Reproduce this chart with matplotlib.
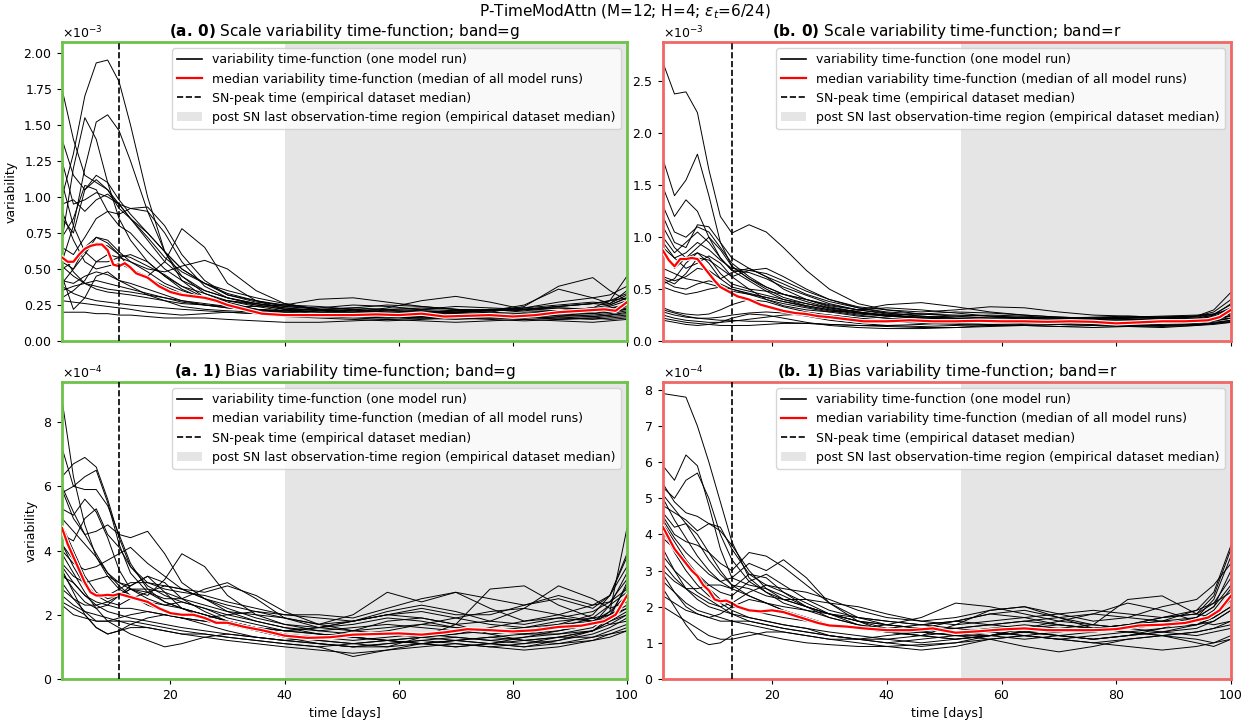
import numpy as np
import matplotlib
matplotlib.use('Agg')
import matplotlib.pyplot as plt
import matplotlib.patheffects as pe
from matplotlib.lines import Line2D
from matplotlib.patches import Patch

# days at which each model run was sampled
DAYS = [1, 3, 5, 7, 9, 11, 13, 16, 19, 22, 26, 30, 35, 40, 46, 52, 58, 64, 70, 76, 82, 88, 94, 97, 100]
# days at which the median curve was sampled
MED_DAYS = [1, 2, 3, 4, 5, 6, 7, 8, 9, 10, 11, 12, 13, 14, 16, 18, 20, 22, 24, 26, 28, 30, 33, 36, 40,
            44, 48, 52, 56, 60, 64, 68, 72, 76, 80, 84, 88, 92, 96, 98, 100]

# scale variability, band g (x1e-3)
SCALE_G_RUNS = [
    [1.00, 1.30, 1.70, 1.93, 1.95, 1.80, 1.50, 1.00, 0.62, 0.42, 0.30, 0.26, 0.22, 0.21, 0.20, 0.19, 0.20, 0.21, 0.20, 0.19, 0.18, 0.19, 0.20, 0.22, 0.25],
    [0.55, 0.80, 1.20, 1.52, 1.57, 1.46, 1.25, 0.90, 0.62, 0.45, 0.33, 0.27, 0.22, 0.20, 0.21, 0.22, 0.20, 0.19, 0.20, 0.22, 0.21, 0.23, 0.22, 0.24, 0.28],
    [0.70, 1.20, 1.55, 1.40, 1.10, 0.85, 0.70, 0.55, 0.45, 0.38, 0.30, 0.25, 0.22, 0.20, 0.18, 0.17, 0.18, 0.19, 0.18, 0.17, 0.18, 0.20, 0.22, 0.21, 0.24],
    [1.75, 1.40, 1.15, 1.10, 1.05, 0.95, 0.85, 0.70, 0.55, 0.45, 0.35, 0.30, 0.26, 0.24, 0.22, 0.21, 0.22, 0.23, 0.22, 0.21, 0.22, 0.24, 0.26, 0.25, 0.30],
    [1.40, 1.15, 1.05, 1.12, 1.05, 0.92, 0.85, 0.75, 0.62, 0.50, 0.40, 0.33, 0.28, 0.24, 0.23, 0.25, 0.24, 0.22, 0.21, 0.22, 0.23, 0.25, 0.27, 0.26, 0.32],
    [1.25, 0.95, 0.98, 1.03, 1.00, 0.95, 0.92, 0.93, 0.80, 0.60, 0.42, 0.32, 0.27, 0.25, 0.24, 0.22, 0.21, 0.22, 0.24, 0.23, 0.22, 0.24, 0.26, 0.28, 0.33],
    [0.85, 0.75, 1.05, 1.15, 1.10, 0.98, 0.88, 0.75, 0.62, 0.50, 0.40, 0.32, 0.28, 0.25, 0.22, 0.21, 0.20, 0.19, 0.21, 0.22, 0.20, 0.21, 0.23, 0.22, 0.26],
    [0.72, 0.85, 1.08, 1.05, 0.90, 0.80, 0.75, 0.62, 0.50, 0.42, 0.35, 0.30, 0.25, 0.22, 0.20, 0.19, 0.18, 0.17, 0.18, 0.19, 0.18, 0.20, 0.21, 0.20, 0.23],
    [0.55, 0.50, 0.60, 0.72, 0.68, 0.60, 0.50, 0.45, 0.55, 0.78, 0.65, 0.40, 0.28, 0.22, 0.22, 0.23, 0.25, 0.24, 0.22, 0.21, 0.22, 0.23, 0.22, 0.23, 0.25],
    [0.65, 0.60, 0.72, 0.85, 0.90, 0.88, 0.92, 0.90, 0.75, 0.55, 0.38, 0.30, 0.26, 0.23, 0.21, 0.20, 0.19, 0.20, 0.19, 0.18, 0.19, 0.20, 0.19, 0.21, 0.22],
    [0.95, 0.98, 0.90, 0.98, 1.02, 0.95, 0.85, 0.72, 0.58, 0.48, 0.40, 0.35, 0.30, 0.26, 0.22, 0.20, 0.19, 0.20, 0.21, 0.20, 0.19, 0.21, 0.23, 0.25, 0.30],
    [0.40, 0.50, 0.65, 0.72, 0.70, 0.62, 0.55, 0.48, 0.40, 0.35, 0.30, 0.28, 0.25, 0.22, 0.20, 0.18, 0.17, 0.18, 0.17, 0.16, 0.17, 0.18, 0.17, 0.18, 0.20],
    [0.50, 0.55, 0.62, 0.68, 0.66, 0.60, 0.58, 0.52, 0.46, 0.38, 0.33, 0.28, 0.24, 0.21, 0.19, 0.18, 0.17, 0.16, 0.17, 0.18, 0.17, 0.16, 0.17, 0.18, 0.19],
    [0.30, 0.35, 0.42, 0.55, 0.60, 0.58, 0.55, 0.50, 0.48, 0.52, 0.56, 0.50, 0.35, 0.26, 0.22, 0.19, 0.17, 0.16, 0.15, 0.16, 0.17, 0.15, 0.16, 0.17, 0.18],
    [0.20, 0.20, 0.20, 0.19, 0.19, 0.18, 0.18, 0.17, 0.16, 0.16, 0.16, 0.15, 0.14, 0.13, 0.13, 0.14, 0.15, 0.14, 0.13, 0.14, 0.15, 0.14, 0.13, 0.14, 0.15],
    [0.28, 0.27, 0.26, 0.25, 0.24, 0.23, 0.22, 0.20, 0.19, 0.18, 0.19, 0.20, 0.19, 0.17, 0.16, 0.15, 0.14, 0.15, 0.16, 0.15, 0.14, 0.15, 0.16, 0.15, 0.16],
    [0.45, 0.22, 0.30, 0.45, 0.48, 0.42, 0.38, 0.32, 0.28, 0.24, 0.22, 0.21, 0.20, 0.19, 0.18, 0.17, 0.16, 0.17, 0.18, 0.17, 0.16, 0.17, 0.18, 0.19, 0.21],
    [0.35, 0.38, 0.40, 0.42, 0.40, 0.38, 0.36, 0.33, 0.30, 0.28, 0.26, 0.24, 0.21, 0.19, 0.17, 0.16, 0.15, 0.16, 0.17, 0.16, 0.15, 0.16, 0.15, 0.16, 0.17],
    [0.52, 0.45, 0.40, 0.38, 0.36, 0.35, 0.34, 0.32, 0.30, 0.27, 0.25, 0.23, 0.22, 0.21, 0.22, 0.23, 0.22, 0.21, 0.20, 0.21, 0.25, 0.36, 0.30, 0.26, 0.35],
    [0.38, 0.33, 0.30, 0.28, 0.27, 0.26, 0.25, 0.24, 0.23, 0.22, 0.21, 0.20, 0.19, 0.18, 0.19, 0.20, 0.21, 0.20, 0.19, 0.20, 0.24, 0.38, 0.44, 0.35, 0.28],
    [0.60, 0.48, 0.40, 0.36, 0.34, 0.33, 0.32, 0.30, 0.28, 0.26, 0.25, 0.24, 0.24, 0.25, 0.29, 0.30, 0.27, 0.24, 0.22, 0.21, 0.22, 0.24, 0.26, 0.28, 0.30],
    [0.42, 0.40, 0.45, 0.48, 0.46, 0.42, 0.40, 0.36, 0.32, 0.28, 0.25, 0.23, 0.21, 0.20, 0.19, 0.20, 0.23, 0.28, 0.31, 0.27, 0.22, 0.21, 0.23, 0.28, 0.45],
    [0.90, 0.70, 0.55, 0.50, 0.52, 0.54, 0.50, 0.44, 0.38, 0.33, 0.30, 0.28, 0.26, 0.23, 0.21, 0.19, 0.18, 0.19, 0.20, 0.21, 0.23, 0.27, 0.30, 0.32, 0.38],
    [1.10, 0.80, 0.62, 0.55, 0.55, 0.58, 0.60, 0.55, 0.45, 0.36, 0.29, 0.25, 0.22, 0.20, 0.18, 0.17, 0.16, 0.17, 0.18, 0.17, 0.16, 0.18, 0.19, 0.20, 0.22],
]
SCALE_G_MEDIAN = [0.58, 0.55, 0.55, 0.60, 0.64, 0.66, 0.67, 0.67, 0.63, 0.53, 0.52, 0.54, 0.51, 0.47, 0.44, 0.38,
                  0.34, 0.32, 0.31, 0.30, 0.28, 0.25, 0.22, 0.19, 0.18, 0.18, 0.18, 0.18, 0.185, 0.18, 0.19,
                  0.17, 0.175, 0.18, 0.17, 0.18, 0.20, 0.21, 0.22, 0.21, 0.27]

# scale variability, band r (x1e-3)
SCALE_R_RUNS = [
    [2.68, 2.38, 2.40, 2.20, 1.65, 1.20, 1.04, 1.12, 1.05, 0.90, 0.68, 0.50, 0.36, 0.30, 0.26, 0.24, 0.22, 0.23, 0.22, 0.21, 0.22, 0.23, 0.24, 0.26, 0.30],
    [1.75, 1.40, 1.55, 1.80, 1.40, 0.95, 0.72, 0.60, 0.50, 0.42, 0.36, 0.31, 0.27, 0.24, 0.22, 0.21, 0.20, 0.19, 0.20, 0.21, 0.20, 0.19, 0.20, 0.22, 0.28],
    [1.48, 1.20, 1.36, 1.25, 1.00, 0.80, 0.68, 0.58, 0.48, 0.40, 0.34, 0.30, 0.26, 0.24, 0.23, 0.22, 0.23, 0.22, 0.21, 0.22, 0.23, 0.22, 0.23, 0.26, 0.35],
    [1.30, 1.05, 1.00, 1.10, 1.05, 0.90, 0.75, 0.62, 0.52, 0.45, 0.38, 0.32, 0.28, 0.25, 0.23, 0.24, 0.25, 0.24, 0.22, 0.21, 0.22, 0.23, 0.24, 0.28, 0.40],
    [1.20, 0.95, 0.90, 1.12, 1.10, 0.95, 0.80, 0.70, 0.62, 0.55, 0.45, 0.38, 0.32, 0.28, 0.26, 0.25, 0.24, 0.23, 0.22, 0.23, 0.24, 0.23, 0.24, 0.30, 0.47],
    [1.00, 0.85, 0.95, 1.05, 0.95, 0.80, 0.68, 0.66, 0.60, 0.52, 0.44, 0.36, 0.30, 0.26, 0.22, 0.20, 0.19, 0.20, 0.21, 0.20, 0.19, 0.20, 0.21, 0.23, 0.27],
    [0.90, 0.80, 0.85, 0.95, 0.88, 0.78, 0.70, 0.68, 0.65, 0.58, 0.48, 0.40, 0.33, 0.30, 0.28, 0.30, 0.33, 0.32, 0.28, 0.25, 0.24, 0.23, 0.22, 0.25, 0.32],
    [0.85, 0.70, 0.80, 0.90, 1.00, 0.88, 0.72, 0.60, 0.52, 0.45, 0.40, 0.34, 0.30, 0.35, 0.37, 0.33, 0.28, 0.25, 0.23, 0.22, 0.21, 0.22, 0.21, 0.23, 0.26],
    [0.60, 0.55, 0.65, 0.80, 0.78, 0.70, 0.62, 0.68, 0.70, 0.62, 0.50, 0.40, 0.32, 0.27, 0.24, 0.22, 0.21, 0.20, 0.19, 0.18, 0.17, 0.18, 0.19, 0.20, 0.22],
    [0.62, 0.58, 0.62, 0.70, 0.68, 0.60, 0.66, 0.70, 0.62, 0.50, 0.40, 0.33, 0.28, 0.25, 0.26, 0.28, 0.27, 0.25, 0.23, 0.22, 0.23, 0.24, 0.25, 0.26, 0.30],
    [0.55, 0.60, 0.75, 0.85, 0.80, 0.65, 0.55, 0.50, 0.48, 0.45, 0.40, 0.35, 0.30, 0.27, 0.24, 0.22, 0.21, 0.22, 0.23, 0.22, 0.21, 0.20, 0.21, 0.24, 0.30],
    [0.70, 0.65, 0.60, 0.58, 0.55, 0.52, 0.48, 0.45, 0.42, 0.38, 0.33, 0.29, 0.25, 0.22, 0.20, 0.19, 0.18, 0.18, 0.19, 0.18, 0.17, 0.18, 0.19, 0.21, 0.25],
    [0.52, 0.48, 0.45, 0.47, 0.50, 0.52, 0.50, 0.46, 0.42, 0.38, 0.34, 0.30, 0.27, 0.25, 0.22, 0.20, 0.19, 0.18, 0.17, 0.16, 0.15, 0.16, 0.17, 0.19, 0.22],
    [0.32, 0.28, 0.26, 0.25, 0.26, 0.30, 0.35, 0.40, 0.38, 0.33, 0.28, 0.25, 0.22, 0.20, 0.18, 0.17, 0.16, 0.15, 0.14, 0.15, 0.14, 0.13, 0.15, 0.17, 0.20],
    [0.30, 0.27, 0.24, 0.22, 0.21, 0.20, 0.20, 0.19, 0.19, 0.18, 0.17, 0.16, 0.15, 0.14, 0.13, 0.13, 0.14, 0.15, 0.14, 0.13, 0.14, 0.15, 0.16, 0.17, 0.18],
    [0.28, 0.25, 0.23, 0.22, 0.22, 0.23, 0.25, 0.27, 0.28, 0.27, 0.24, 0.20, 0.17, 0.15, 0.14, 0.15, 0.16, 0.17, 0.16, 0.15, 0.14, 0.15, 0.16, 0.17, 0.19],
    [0.20, 0.18, 0.16, 0.15, 0.16, 0.18, 0.22, 0.26, 0.25, 0.22, 0.18, 0.15, 0.13, 0.12, 0.12, 0.13, 0.15, 0.16, 0.17, 0.16, 0.15, 0.14, 0.15, 0.16, 0.18],
    [0.22, 0.20, 0.18, 0.17, 0.16, 0.15, 0.15, 0.15, 0.16, 0.17, 0.17, 0.16, 0.15, 0.15, 0.16, 0.18, 0.20, 0.21, 0.20, 0.19, 0.18, 0.18, 0.19, 0.20, 0.22],
    [0.95, 0.80, 0.70, 0.75, 0.82, 0.75, 0.62, 0.50, 0.40, 0.34, 0.30, 0.28, 0.30, 0.32, 0.30, 0.27, 0.24, 0.22, 0.21, 0.22, 0.23, 0.22, 0.21, 0.22, 0.24],
    [0.58, 0.52, 0.50, 0.55, 0.58, 0.55, 0.50, 0.45, 0.40, 0.36, 0.32, 0.28, 0.24, 0.22, 0.20, 0.19, 0.19, 0.20, 0.19, 0.18, 0.17, 0.18, 0.18, 0.20, 0.24],
    [0.25, 0.22, 0.20, 0.19, 0.18, 0.18, 0.19, 0.21, 0.23, 0.25, 0.26, 0.25, 0.22, 0.19, 0.17, 0.16, 0.15, 0.15, 0.16, 0.17, 0.16, 0.15, 0.16, 0.18, 0.20],
    [1.10, 0.90, 0.80, 0.85, 0.75, 0.60, 0.52, 0.48, 0.44, 0.40, 0.36, 0.32, 0.28, 0.24, 0.22, 0.21, 0.21, 0.20, 0.21, 0.22, 0.21, 0.20, 0.22, 0.25, 0.36],
]
SCALE_R_MEDIAN = [0.87, 0.78, 0.72, 0.79, 0.79, 0.80, 0.79, 0.72, 0.65, 0.58, 0.52, 0.49, 0.46, 0.43, 0.40, 0.35,
                  0.32, 0.29, 0.27, 0.26, 0.24, 0.23, 0.21, 0.19, 0.19, 0.20, 0.19, 0.19, 0.195, 0.19, 0.19,
                  0.185, 0.19, 0.185, 0.17, 0.18, 0.19, 0.19, 0.20, 0.23, 0.30]

# bias variability, band g (x1e-4)
BIAS_G_RUNS = [
    [8.7, 6.3, 4.8, 3.8, 3.2, 2.8, 2.6, 2.4, 2.3, 2.2, 2.0, 1.8, 1.6, 1.4, 1.3, 1.2, 1.3, 1.4, 1.3, 1.2, 1.3, 1.4, 1.6, 2.0, 2.9],
    [7.2, 6.0, 6.3, 6.5, 5.5, 4.2, 3.3, 2.7, 2.4, 2.2, 2.0, 1.8, 1.6, 1.4, 1.2, 1.1, 1.2, 1.3, 1.2, 1.1, 1.0, 1.2, 1.5, 1.9, 3.0],
    [6.3, 6.7, 6.9, 6.6, 5.6, 4.4, 3.5, 2.9, 2.6, 2.4, 2.2, 2.0, 1.8, 1.6, 1.5, 1.6, 1.7, 1.6, 1.5, 1.4, 1.5, 1.7, 2.0, 2.6, 3.9],
    [5.8, 6.0, 5.9, 5.9, 5.4, 4.5, 3.6, 2.8, 2.4, 2.2, 2.0, 1.8, 1.6, 1.5, 1.4, 1.3, 1.2, 1.3, 1.4, 1.5, 1.4, 1.5, 1.7, 2.3, 3.3],
    [5.3, 5.1, 5.6, 5.2, 4.4, 3.4, 2.8, 2.5, 2.3, 2.4, 2.2, 1.9, 1.7, 1.5, 1.6, 1.8, 2.1, 2.3, 2.1, 1.8, 1.7, 1.9, 2.1, 2.4, 3.1],
    [5.9, 5.0, 4.5, 4.6, 4.8, 4.5, 4.4, 4.6, 3.9, 3.0, 2.5, 2.1, 1.8, 1.6, 1.4, 1.3, 1.2, 1.1, 1.2, 1.3, 1.4, 1.6, 1.9, 2.3, 2.7],
    [4.5, 4.3, 5.0, 5.3, 4.5, 4.1, 3.5, 3.0, 2.8, 2.7, 2.6, 2.4, 2.2, 2.0, 2.0, 1.9, 2.2, 2.5, 2.7, 2.5, 2.3, 2.6, 2.3, 2.4, 2.8],
    [4.0, 3.6, 3.4, 3.5, 3.7, 3.9, 4.1, 3.6, 3.2, 2.8, 2.5, 2.3, 2.1, 2.0, 1.9, 1.8, 2.0, 2.1, 1.9, 1.7, 1.6, 1.7, 1.8, 2.0, 2.3],
    [3.6, 3.2, 3.0, 3.1, 3.2, 3.0, 2.8, 2.6, 3.1, 3.9, 3.5, 2.6, 2.0, 1.7, 1.5, 1.4, 1.5, 1.7, 1.9, 2.1, 2.2, 2.0, 1.8, 1.9, 2.2],
    [4.2, 3.5, 2.9, 2.6, 2.6, 2.8, 3.0, 3.0, 2.9, 2.8, 2.7, 2.9, 2.6, 2.1, 1.7, 1.5, 1.4, 1.3, 1.4, 1.6, 1.8, 1.9, 1.8, 2.1, 2.6],
    [3.3, 2.8, 2.4, 2.2, 2.3, 2.6, 2.8, 2.7, 2.5, 2.5, 2.8, 3.0, 2.5, 1.9, 1.6, 1.5, 1.6, 1.7, 1.6, 1.5, 1.6, 1.8, 1.9, 2.0, 2.2],
    [3.0, 2.5, 2.1, 1.8, 1.8, 1.9, 2.0, 2.1, 2.0, 1.9, 1.8, 1.7, 1.5, 1.3, 1.1, 1.0, 1.1, 1.2, 1.3, 1.2, 1.1, 1.2, 1.4, 1.6, 1.9],
    [2.6, 2.3, 2.1, 2.0, 1.9, 1.8, 1.7, 1.6, 1.5, 1.4, 1.3, 1.2, 1.1, 1.0, 0.9, 0.8, 0.9, 1.0, 1.1, 1.0, 0.9, 1.0, 1.2, 1.4, 1.6],
    [2.4, 2.2, 2.0, 1.6, 1.4, 1.5, 1.6, 1.6, 1.5, 1.4, 1.4, 1.3, 1.2, 1.1, 1.0, 0.7, 0.9, 1.1, 1.2, 1.1, 1.0, 1.1, 1.3, 1.5, 1.7],
    [3.9, 3.3, 2.7, 2.2, 1.8, 1.6, 1.4, 1.2, 1.0, 1.1, 1.3, 1.4, 1.3, 1.2, 1.3, 1.5, 1.8, 1.9, 1.7, 1.4, 1.2, 1.3, 1.5, 1.8, 2.1],
    [3.4, 2.7, 2.0, 1.6, 1.4, 1.5, 1.7, 1.9, 2.0, 1.9, 1.8, 1.7, 1.6, 1.5, 1.6, 1.8, 2.0, 1.9, 1.7, 1.8, 2.2, 2.9, 2.5, 2.2, 2.4],
    [2.8, 2.5, 2.3, 2.3, 2.4, 2.6, 2.8, 2.8, 2.7, 2.5, 2.3, 2.1, 2.0, 1.9, 1.7, 2.0, 2.7, 2.4, 2.7, 2.2, 1.8, 2.0, 2.3, 2.6, 3.5],
    [5.0, 4.6, 4.2, 3.8, 3.3, 3.0, 2.9, 3.2, 3.0, 2.5, 2.1, 1.8, 1.6, 1.5, 1.4, 1.3, 1.2, 1.1, 1.0, 1.1, 1.3, 1.5, 1.7, 2.1, 4.7],
    [4.8, 4.0, 3.2, 2.7, 2.5, 2.6, 2.9, 3.2, 2.7, 2.2, 1.9, 1.7, 1.5, 1.3, 1.2, 1.1, 1.0, 1.3, 1.7, 2.8, 2.9, 2.3, 1.9, 1.7, 1.8],
    [3.2, 3.0, 2.6, 2.3, 2.1, 2.0, 1.9, 1.8, 1.7, 1.6, 1.5, 1.4, 1.3, 1.2, 1.1, 1.0, 1.1, 1.2, 1.1, 1.0, 1.1, 1.3, 1.5, 1.8, 2.0],
    [2.3, 2.0, 1.9, 1.8, 1.8, 1.8, 1.8, 1.7, 1.6, 1.5, 1.4, 1.3, 1.2, 1.1, 1.0, 1.1, 1.2, 1.1, 1.0, 1.1, 1.2, 1.3, 1.3, 1.4, 1.5],
    [6.0, 5.2, 4.5, 3.9, 3.3, 2.9, 2.6, 2.3, 2.1, 2.0, 1.9, 2.0, 2.1, 1.9, 1.7, 1.8, 2.0, 2.2, 2.0, 2.0, 2.3, 2.5, 2.2, 2.6, 3.8],
    [4.2, 3.7, 3.0, 2.6, 2.4, 2.3, 2.5, 2.7, 2.9, 2.8, 2.5, 2.2, 1.9, 1.7, 1.6, 1.7, 1.9, 1.8, 1.6, 1.5, 1.4, 1.4, 1.5, 1.7, 2.0],
    [3.5, 3.0, 2.6, 2.4, 2.3, 2.2, 2.2, 2.1, 2.0, 1.9, 1.7, 1.5, 1.3, 1.2, 1.1, 1.0, 1.0, 1.1, 1.2, 1.3, 1.2, 1.1, 1.2, 1.3, 1.5],
]
BIAS_G_MEDIAN = [4.7, 4.2, 3.8, 3.4, 3.0, 2.7, 2.6, 2.6, 2.62, 2.6, 2.65, 2.6, 2.55, 2.5, 2.4, 2.2, 2.05, 2.0,
                 2.0, 1.9, 1.75, 1.75, 1.62, 1.52, 1.35, 1.28, 1.3, 1.38, 1.4, 1.42, 1.38, 1.45, 1.55, 1.52,
                 1.48, 1.52, 1.62, 1.66, 1.8, 2.0, 2.6]

# bias variability, band r (x1e-4)
BIAS_R_RUNS = [
    [7.9, 7.85, 7.8, 7.0, 6.0, 4.9, 3.8, 2.8, 2.4, 2.2, 2.0, 1.8, 1.6, 1.5, 1.4, 1.3, 1.4, 1.5, 1.4, 1.3, 1.4, 1.5, 1.7, 2.0, 2.6],
    [5.9, 5.5, 6.2, 5.9, 4.8, 3.6, 2.8, 2.6, 2.5, 2.3, 2.0, 1.7, 1.5, 1.3, 1.2, 1.1, 1.2, 1.3, 1.2, 1.1, 1.2, 1.4, 1.7, 2.2, 3.4],
    [5.3, 5.0, 5.5, 5.7, 5.0, 4.0, 3.3, 2.7, 2.4, 2.1, 1.9, 1.7, 1.5, 1.4, 1.5, 1.6, 1.5, 1.4, 1.3, 1.4, 1.5, 1.6, 1.9, 2.4, 3.7],
    [5.4, 4.9, 4.6, 4.5, 4.3, 4.1, 3.7, 3.0, 2.5, 2.2, 2.0, 1.8, 1.6, 1.5, 1.4, 1.3, 1.2, 1.1, 1.2, 1.3, 1.4, 1.5, 1.6, 1.8, 2.2],
    [4.8, 4.6, 4.4, 4.1, 4.3, 4.2, 3.6, 2.9, 2.6, 2.5, 2.4, 2.2, 1.9, 1.7, 1.6, 1.7, 1.9, 2.0, 1.8, 1.6, 1.7, 2.0, 2.2, 2.6, 3.2],
    [4.5, 4.0, 3.8, 3.7, 3.5, 3.2, 3.0, 3.5, 3.4, 3.1, 2.6, 2.1, 1.7, 1.5, 1.4, 1.4, 1.5, 1.6, 1.7, 1.8, 1.7, 1.6, 1.5, 1.6, 1.9],
    [4.4, 3.9, 3.5, 3.2, 2.9, 2.7, 2.8, 3.2, 3.0, 3.3, 2.8, 2.1, 1.6, 1.3, 1.2, 1.1, 1.2, 1.4, 1.6, 1.8, 2.1, 1.9, 1.6, 1.5, 1.6],
    [3.9, 3.6, 3.2, 2.9, 2.6, 2.4, 2.3, 2.7, 2.9, 2.6, 2.2, 1.9, 1.7, 1.6, 1.5, 1.6, 1.8, 1.9, 1.7, 1.5, 1.4, 1.5, 1.6, 1.9, 2.5],
    [3.2, 2.8, 2.5, 2.3, 2.1, 2.0, 2.1, 2.4, 2.6, 2.4, 2.1, 1.8, 1.5, 1.3, 1.2, 1.3, 1.4, 1.3, 1.2, 1.1, 1.2, 1.3, 1.4, 1.6, 1.9],
    [2.9, 2.4, 2.0, 1.8, 1.7, 1.8, 2.0, 2.2, 2.1, 1.9, 1.7, 1.5, 1.4, 1.3, 1.4, 1.6, 1.8, 1.7, 1.5, 1.4, 1.5, 1.7, 1.9, 2.1, 2.4],
    [2.5, 2.0, 1.5, 1.1, 0.95, 1.0, 1.2, 1.3, 1.2, 1.1, 1.0, 0.95, 0.9, 0.9, 0.95, 1.0, 1.1, 1.2, 1.1, 1.0, 0.9, 0.8, 0.9, 1.0, 1.2],
    [2.0, 1.8, 1.6, 1.4, 1.2, 1.1, 1.1, 1.2, 1.3, 1.3, 1.2, 1.1, 1.0, 0.9, 0.8, 0.9, 1.1, 1.2, 1.1, 1.0, 1.1, 1.2, 1.3, 1.4, 1.6],
    [4.1, 3.5, 3.0, 2.6, 2.3, 2.1, 1.9, 1.7, 1.6, 1.5, 1.4, 1.3, 1.2, 1.1, 1.0, 1.1, 1.2, 1.3, 1.2, 1.1, 1.2, 1.3, 1.5, 1.7, 2.0],
    [3.6, 3.0, 2.5, 2.2, 2.0, 1.9, 1.8, 1.7, 1.6, 1.5, 1.4, 1.2, 1.1, 1.1, 1.2, 1.5, 1.9, 2.0, 1.7, 1.4, 1.3, 1.2, 1.3, 1.4, 1.5],
    [5.0, 4.4, 3.9, 3.4, 3.0, 2.7, 2.5, 2.9, 2.8, 2.4, 2.0, 1.8, 1.7, 1.6, 1.5, 1.4, 1.5, 1.6, 1.5, 1.4, 1.5, 1.7, 1.8, 2.1, 2.8],
    [3.0, 2.7, 2.5, 2.5, 2.6, 2.6, 2.5, 2.3, 2.1, 1.9, 1.7, 1.5, 1.4, 1.5, 1.7, 2.1, 2.0, 1.8, 1.6, 1.5, 1.4, 1.3, 1.2, 1.3, 1.4],
    [2.3, 2.1, 1.9, 1.8, 1.7, 1.6, 1.6, 1.5, 1.4, 1.3, 1.2, 1.1, 1.1, 1.2, 1.3, 1.2, 1.1, 0.9, 0.75, 0.9, 1.1, 1.2, 1.1, 1.0, 1.1],
    [4.6, 4.2, 4.3, 4.0, 3.5, 3.0, 2.6, 2.3, 2.1, 2.0, 1.9, 1.8, 1.6, 1.4, 1.3, 1.2, 1.2, 1.3, 1.4, 1.5, 2.2, 2.3, 1.8, 1.7, 2.0],
    [3.4, 3.0, 2.7, 2.4, 2.2, 2.0, 1.8, 1.6, 1.5, 1.4, 1.3, 1.2, 1.1, 1.0, 0.9, 1.0, 1.2, 1.4, 1.5, 1.4, 1.3, 1.2, 1.0, 0.9, 1.1],
    [4.3, 3.8, 3.3, 2.9, 2.5, 2.2, 2.0, 1.9, 1.8, 1.7, 1.6, 1.5, 1.4, 1.3, 1.3, 1.4, 1.3, 1.2, 1.3, 1.4, 1.5, 1.6, 1.7, 2.0, 3.0],
    [5.1, 4.7, 4.3, 3.8, 3.3, 2.9, 2.6, 2.5, 2.3, 2.2, 2.2, 2.1, 2.0, 1.8, 1.6, 1.5, 1.6, 1.7, 1.8, 1.9, 1.8, 1.7, 1.8, 2.3, 3.6],
    [2.7, 2.4, 2.1, 1.9, 1.8, 1.7, 1.6, 1.6, 1.5, 1.4, 1.3, 1.2, 1.1, 1.0, 1.1, 1.2, 1.3, 1.2, 1.1, 1.2, 1.3, 1.4, 1.5, 1.7, 2.2],
]
BIAS_R_MEDIAN = [4.2, 3.9, 3.6, 3.4, 3.2, 3.0, 2.85, 2.6, 2.45, 2.2, 2.15, 2.17, 2.1, 2.0, 1.9, 1.87, 1.9,
                 1.85, 1.75, 1.65, 1.55, 1.48, 1.45, 1.4, 1.35, 1.35, 1.4, 1.28, 1.32, 1.37, 1.4, 1.35, 1.35,
                 1.35, 1.38, 1.48, 1.5, 1.55, 1.7, 1.9, 2.3]

# median SN-peak day and median last-observation day per band
PEAK_DAY = {'g': 11, 'r': 13}
LAST_OBS_DAY = {'g': 40, 'r': 53}
BAND_COLOR = {'g': '#6cc24a', 'r': '#f06767'}

plt.rcParams['font.family'] = 'DejaVu Sans'
plt.rcParams['font.size'] = 9

fig = plt.figure(figsize=(12.5, 7.21), dpi=100)
fig.suptitle(r'P-TimeModAttn (M=12; H=4; $\varepsilon_t$=6/24)', fontsize=11, y=0.997)

panels = [
    # rect, runs, median, unit, band, title, ymax, show xlabels
    ([0.0496, 0.527, 0.452, 0.4147], SCALE_G_RUNS, SCALE_G_MEDIAN, 1e-3, 'g',
     r'$\bf{(a.\,0)}$ Scale variability time-function; band=g', 2.075e-3, False),
    ([0.5304, 0.527, 0.4544, 0.4147], SCALE_R_RUNS, SCALE_R_MEDIAN, 1e-3, 'r',
     r'$\bf{(b.\,0)}$ Scale variability time-function; band=r', 2.88e-3, False),
    ([0.0496, 0.0583, 0.452, 0.4119], BIAS_G_RUNS, BIAS_G_MEDIAN, 1e-4, 'g',
     r'$\bf{(a.\,1)}$ Bias variability time-function; band=g', 9.25e-4, True),
    ([0.5304, 0.0583, 0.4544, 0.4119], BIAS_R_RUNS, BIAS_R_MEDIAN, 1e-4, 'r',
     r'$\bf{(b.\,1)}$ Bias variability time-function; band=r', 8.22e-4, True),
]

for rect, runs, median, unit, band, title, ymax, bottom in panels:
    ax = fig.add_axes(rect)
    for run in runs:
        ax.plot(DAYS, np.array(run) * unit, color='k', lw=0.7, zorder=2)
    ax.plot(MED_DAYS, np.array(median) * unit, color='r', lw=1.6, zorder=3,
            path_effects=[pe.Stroke(linewidth=3.2, foreground='w'), pe.Normal()])
    ax.axvline(PEAK_DAY[band], color='k', ls='--', lw=1.2, zorder=4)
    ax.axvspan(LAST_OBS_DAY[band], 100, color='k', alpha=0.1, lw=0, zorder=0)

    ax.set_xlim(1, 100)
    ax.set_ylim(0, ymax)
    ax.set_xticks([20, 40, 60, 80, 100])
    ax.ticklabel_format(style='sci', axis='y', scilimits=(0, 0), useMathText=True)
    ax.yaxis.get_offset_text().set_fontsize(9)
    ax.tick_params(labelsize=9)
    if bottom:
        ax.set_xlabel('time [days]', fontsize=9)
    else:
        ax.set_xticklabels([])
    if band == 'g':
        ax.set_ylabel('variability', fontsize=9)
    ax.set_title(title, fontsize=11, pad=4)
    for sp in ax.spines.values():
        sp.set_edgecolor(BAND_COLOR[band])
        sp.set_linewidth(2)

    handles = [
        Line2D([], [], color='k', lw=1.2),
        Line2D([], [], color='r', lw=1.6),
        Line2D([], [], color='k', ls='--', lw=1.2),
        Patch(facecolor='k', alpha=0.1, lw=0),
    ]
    labels = [
        'variability time-function (one model run)',
        'median variability time-function (median of all model runs)',
        'SN-peak time (empirical dataset median)',
        'post SN last observation-time region (empirical dataset median)',
    ]
    ax.legend(handles, labels, loc='upper right', fontsize=9)

fig.savefig('out.png', dpi=100)
